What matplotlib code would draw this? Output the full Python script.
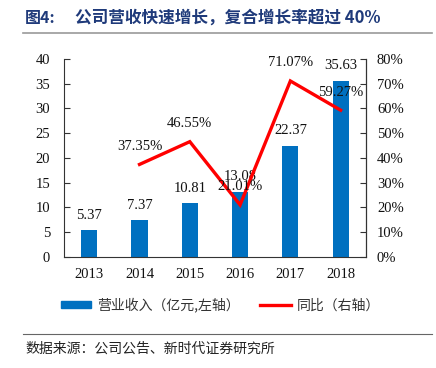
"""Revenue and YoY growth chart."""
import matplotlib
matplotlib.use('Agg')
import matplotlib.pyplot as plt
from matplotlib.lines import Line2D
from matplotlib.patches import Patch

years = ['2013', '2014', '2015', '2016', '2017', '2018']
revenue = [5.37, 7.37, 10.81, 13.08, 22.37, 35.63]
growth = [None, 37.35, 46.55, 21.01, 71.07, 59.27]
left_ticks = [0, 5, 10, 15, 20, 25, 30, 35, 40]
right_ticks = [0, 10, 20, 30, 40, 50, 60, 70, 80]

CJK = ['Noto Sans CJK SC', 'DejaVu Sans']
SERIF = 'Liberation Serif'
BLUE = '#0070C0'
RED = '#FF0000'

fig = plt.figure(figsize=(4.36, 3.68), dpi=100)
ax = fig.add_axes([0.147, 0.302, 0.692, 0.538])
ax2 = ax.twinx()

x = list(range(len(years)))
ax.bar(x, revenue, width=0.32, color=BLUE, zorder=2)
ax.set_xlim(-0.5, len(years) - 0.5)
ax.set_ylim(0, 40)
ax.set_yticks(left_ticks)
ax.set_xticks(x)
ax.set_xticklabels(years)

gx = [i for i, g in zip(x, growth) if g is not None]
gy = [g for g in growth if g is not None]
ax2.plot(gx, gy, color=RED, lw=2.4, solid_joinstyle='miter', zorder=3)
ax2.set_ylim(0, 80)
ax2.set_yticks(right_ticks)
ax2.set_yticklabels(['{}%'.format(t) for t in right_ticks])

for a in (ax, ax2):
    a.spines['top'].set_visible(False)
    for lab in a.get_xticklabels() + a.get_yticklabels():
        lab.set_fontfamily(SERIF)
        lab.set_fontsize(10.5)
        lab.set_color('#111111')
ax.spines['left'].set_color('#333333')
ax.spines['bottom'].set_color('#333333')
ax2.spines['right'].set_color('#333333')
ax2.spines['left'].set_visible(False)
ax2.spines['bottom'].set_visible(False)
ax.tick_params(axis='y', direction='in', length=4, pad=10, color='#333333')
ax.tick_params(axis='x', length=0, pad=8)
ax2.tick_params(axis='y', direction='in', length=4, pad=8, color='#333333')

for xi, v in zip(x, revenue):
    ax.annotate('{:.2f}'.format(v), (xi, v), xytext=(0, 11),
                textcoords='offset points', ha='center', va='center',
                fontfamily=SERIF, fontsize=10.5, color='#111111')
for xi, g in zip(gx, gy):
    ax2.annotate('{:.2f}%'.format(g), (xi, g), xytext=(0, 13),
                 textcoords='offset points', ha='center', va='center',
                 fontfamily=SERIF, fontsize=10.5, color='#111111')

# title and rules
fig.text(25 / 436, 1 - 18 / 368, '图4:', fontfamily=CJK, fontsize=11.5,
         fontweight='bold', color='#1F3A7A', va='center')
fig.text(75 / 436, 1 - 18 / 368, '公司营收快速增长，复合增长率超过 40%',
         fontfamily=CJK, fontsize=12, fontweight='bold', color='#1F3A7A',
         va='center')
fig.add_artist(Line2D([23 / 436, 432 / 436], [1 - 33 / 368] * 2,
                      color='#999999', lw=1.2))
fig.add_artist(Line2D([23 / 436, 432 / 436], [1 - 334 / 368] * 2,
                      color='#666666', lw=0.8))
fig.text(25 / 436, 1 - 349 / 368, '数据来源：公司公告、新时代证券研究所',
         fontfamily=CJK, fontsize=10, color='#222222', va='center')

handles = [Patch(color=BLUE), Line2D([], [], color=RED, lw=2.4)]
labels = ['营业收入（亿元,左轴）', '同比（右轴）']
fig.legend(handles, labels, loc='center', bbox_to_anchor=(0.505, 1 - 305 / 368),
           ncol=2, frameon=False, prop={'family': CJK, 'size': 10},
           handlelength=2.2, handleheight=0.4, handletextpad=0.4,
           columnspacing=1.5, labelcolor='#333333')

fig.savefig('out.png', dpi=100)
plt.close(fig)
